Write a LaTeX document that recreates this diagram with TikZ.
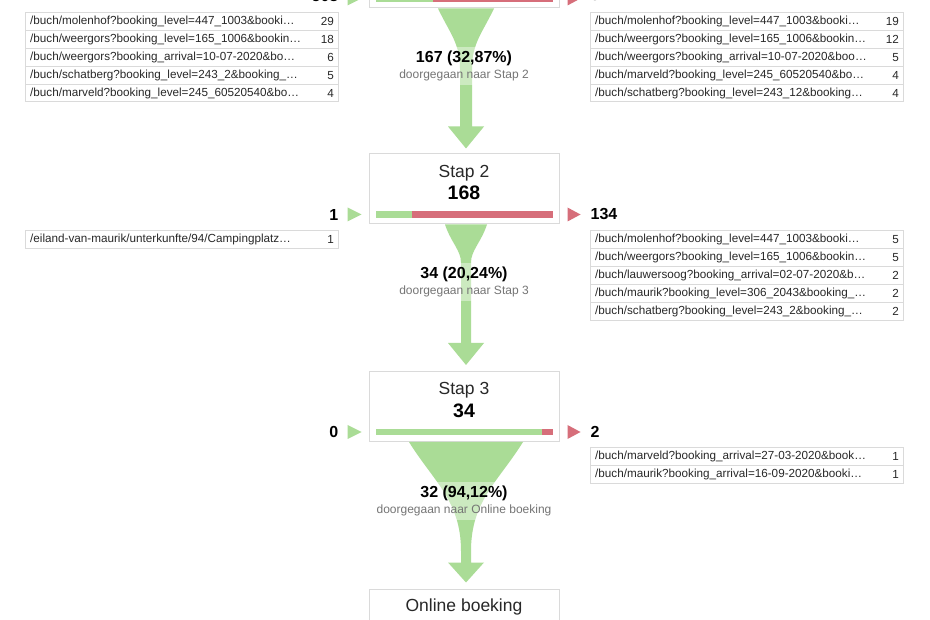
\documentclass[tikz,border=0pt]{standalone}
\usepackage{fontspec}
\setmainfont{Liberation Sans}
\usetikzlibrary{calc}

\definecolor{flowgreen}{RGB}{170,220,150}
\definecolor{exitred}{RGB}{214,110,122}
\definecolor{boxgray}{RGB}{218,218,218}
\definecolor{labelgray}{RGB}{117,117,117}
\definecolor{textdark}{RGB}{40,40,40}

\tikzset{
    stepbox/.style={draw=boxgray, fill=white, line width=1pt,
        minimum width=190pt, minimum height=70pt, inner sep=0pt},
    steptitle/.style={font=\fontsize{17.5}{20}\selectfont, text=textdark, inner sep=0pt},
    stepvalue/.style={font=\fontsize{19.5}{22}\selectfont\bfseries, inner sep=0pt},
    sidenum/.style={font=\fontsize{16}{18}\selectfont\bfseries, inner sep=0pt},
    rowbox/.style={draw=boxgray, fill=white, line width=1pt, anchor=north west,
        minimum width=313pt, minimum height=17.9pt, inner sep=0pt},
    rowtext/.style={font=\fontsize{11.7}{14}\selectfont, text=textdark,
        anchor=west, inner sep=0pt, xshift=5pt},
    rownum/.style={font=\fontsize{11.7}{14}\selectfont, text=textdark,
        anchor=east, inner sep=0pt, xshift=-5pt},
    band/.style={fill=white, fill opacity=0.4, minimum width=200pt,
        minimum height=38pt, inner sep=0pt},
    flowvalue/.style={font=\fontsize{16}{18}\selectfont\bfseries, inner sep=0pt},
    flowsub/.style={font=\fontsize{12}{14}\selectfont, text=labelgray, inner sep=0pt}
}

\begin{document}
\begin{tikzpicture}[x=1pt, y=-1pt]

\useasboundingbox (0,0) rectangle (930,620);
\clip (0,0) rectangle (930,620);
\fill[white] (0,0) rectangle (930,620);

% steps
\node[stepbox] (stap1) at (464,-27) {};
\node[stepbox] (stap2) at (464,189) {};
\node[stepbox] (stap3) at (464,406.5) {};
\node[stepbox] (online) at (464,624) {};

\node[steptitle] (stap2-title) at ($(stap2.north)+(0,20)$) {Stap 2};
\node[stepvalue] (stap2-value) at ($(stap2.north)+(0,39.5)$) {168};
\node[steptitle] (stap3-title) at ($(stap3.north)+(0,19)$) {Stap 3};
\node[stepvalue] (stap3-value) at ($(stap3.north)+(0,39.5)$) {34};
\node[steptitle] (online-title) at ($(online.north)+(0,18)$) {Online boeking};
\node[stepvalue] (online-value) at ($(online.north)+(0,40)$) {32};

% bars, entrances and exits
\foreach \s/\g/\nin/\nout/\dy in {stap1/57/508/341/-3, stap2/36/1/134/0, stap3/166/0/2/0} {
    \fill[flowgreen] ($(\s.south west)+(7,-13.25)$) rectangle ++(\g,6.5);
    \fill[exitred] ($(\s.south west)+(7+\g,-13.25)$) rectangle ($(\s.south east)+(-7,-6.75)$);
    \fill[flowgreen] ($(\s.south west)+(-21,-17)$) -- ($(\s.south west)+(-7,-10)$)
        -- ($(\s.south west)+(-21,-3)$) -- cycle;
    \fill[exitred] ($(\s.south east)+(8,-17)$) -- ($(\s.south east)+(21,-10)$)
        -- ($(\s.south east)+(8,-3)$) -- cycle;
    \node[sidenum, anchor=east] (\s-in) at ($(\s.south west)+(-30,-10+\dy)$) {\nin};
    \node[sidenum, anchor=west] (\s-out) at ($(\s.south east)+(31,-10+\dy)$) {\nout};
}

% flows
\fill[flowgreen] ($(stap1.south)+(-26,0)$) .. controls +(12,25) and +(0,-25) .. ($(stap1.south)+(-4,60)$)
    -- ($(stap2.north)+(-4,-27)$) -- ($(stap2.north)+(-16,-27)$) -- ($(stap2.north)+(2,-5)$)
    -- ($(stap2.north)+(20,-27)$) -- ($(stap2.north)+(8,-27)$) -- ($(stap1.south)+(8,60)$)
    .. controls +(0,-25) and +(-12,25) .. ($(stap1.south)+(30,0)$) -- cycle;
\fill[flowgreen] ($(stap2.south)+(-19,0)$) .. controls +(6,18) and +(0,-12) .. ($(stap2.south)+(-3,38)$)
    -- ($(stap3.north)+(-3,-28)$) -- ($(stap3.north)+(-16,-28)$) -- ($(stap3.north)+(2,-6)$)
    -- ($(stap3.north)+(20,-28)$) -- ($(stap3.north)+(7,-28)$) -- ($(stap2.south)+(7,38)$)
    .. controls +(0,-12) and +(-6,18) .. ($(stap2.south)+(23,0)$) -- cycle;
\fill[flowgreen] ($(stap3.south)+(-55,0)$) .. controls +(25,40) and +(0,-50) .. ($(stap3.south)+(-3,109)$)
    -- ($(online.north)+(-3,-26)$) -- ($(online.north)+(-16,-26)$) -- ($(online.north)+(2,-6)$)
    -- ($(online.north)+(20,-26)$) -- ($(online.north)+(7,-26)$) -- ($(stap3.south)+(7,109)$)
    .. controls +(0,-50) and +(-25,40) .. ($(stap3.south)+(59,0)$) -- cycle;

% flow labels
\node[band] (lab1) at ($(stap1.south)+(0,58)$) {};
\node[flowvalue] (lab1-value) at ($(lab1)+(0,-8)$) {167 (32,87\%)};
\node[flowsub] (lab1-sub) at ($(lab1)+(0,9)$) {doorgegaan naar Stap 2};
\node[band] (lab2) at ($(stap2.south)+(0,58)$) {};
\node[flowvalue] (lab2-value) at ($(lab2)+(0,-8)$) {34 (20,24\%)};
\node[flowsub] (lab2-sub) at ($(lab2)+(0,9)$) {doorgegaan naar Stap 3};
\node[band] (lab3) at ($(stap3.south)+(0,59)$) {};
\node[flowvalue] (lab3-value) at ($(lab3)+(0,-8)$) {32 (94,12\%)};
\node[flowsub] (lab3-sub) at ($(lab3)+(0,9)$) {doorgegaan naar Online boeking};

% tables
\foreach \n/\txt [count=\i from 0] in {
    29/{/buch/molenhof?booking\_level=447\_1003\&booki…},
    18/{/buch/weergors?booking\_level=165\_1006\&bookin…},
    6/{/buch/weergors?booking\_arrival=10-07-2020\&bo…},
    5/{/buch/schatberg?booking\_level=243\_2\&booking\_…},
    4/{/buch/marveld?booking\_level=245\_60520540\&bo…}} {
    \node[rowbox] (ina\i) at (25,{12+17.9*\i}) {};
    \node[rowtext] (ina\i-txt) at (ina\i.west) {\txt};
    \node[rownum] (ina\i-num) at (ina\i.east) {\n};
}
\foreach \n/\txt [count=\i from 0] in {
    19/{/buch/molenhof?booking\_level=447\_1003\&booki…},
    12/{/buch/weergors?booking\_level=165\_1006\&bookin…},
    5/{/buch/weergors?booking\_arrival=10-07-2020\&boo…},
    4/{/buch/marveld?booking\_level=245\_60520540\&bo…},
    4/{/buch/schatberg?booking\_level=243\_12\&booking…}} {
    \node[rowbox] (outa\i) at (590,{12+17.9*\i}) {};
    \node[rowtext] (outa\i-txt) at (outa\i.west) {\txt};
    \node[rownum] (outa\i-num) at (outa\i.east) {\n};
}
\foreach \n/\txt [count=\i from 0] in {
    1/{/eiland-van-maurik/unterkunfte/94/Campingplatz…}} {
    \node[rowbox] (inb\i) at (25,{230.5+17.9*\i}) {};
    \node[rowtext] (inb\i-txt) at (inb\i.west) {\txt};
    \node[rownum] (inb\i-num) at (inb\i.east) {\n};
}
\foreach \n/\txt [count=\i from 0] in {
    5/{/buch/molenhof?booking\_level=447\_1003\&booki…},
    5/{/buch/weergors?booking\_level=165\_1006\&bookin…},
    2/{/buch/lauwersoog?booking\_arrival=02-07-2020\&b…},
    2/{/buch/maurik?booking\_level=306\_2043\&booking\_…},
    2/{/buch/schatberg?booking\_level=243\_2\&booking\_…}} {
    \node[rowbox] (outb\i) at (590,{230.5+17.9*\i}) {};
    \node[rowtext] (outb\i-txt) at (outb\i.west) {\txt};
    \node[rownum] (outb\i-num) at (outb\i.east) {\n};
}
\foreach \n/\txt [count=\i from 0] in {
    1/{/buch/marveld?booking\_arrival=27-03-2020\&book…},
    1/{/buch/maurik?booking\_arrival=16-09-2020\&booki…}} {
    \node[rowbox] (outc\i) at (590,{447.5+17.9*\i}) {};
    \node[rowtext] (outc\i-txt) at (outc\i.west) {\txt};
    \node[rownum] (outc\i-num) at (outc\i.east) {\n};
}

\end{tikzpicture}
\end{document}
